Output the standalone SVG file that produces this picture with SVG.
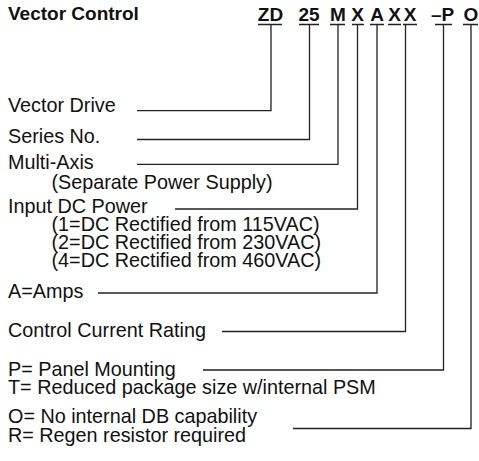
<svg xmlns="http://www.w3.org/2000/svg" width="479" height="461" viewBox="0 0 479 461">
<style>
text{font-family:"Liberation Sans",Arial,sans-serif;fill:#111}
.t{font-size:19.8px}
.b{font-size:19px;font-weight:bold}
.c{font-size:19px;font-weight:bold;text-anchor:middle}
.l{fill:none;stroke:#222;stroke-width:1.3}
</style>
<rect width="479" height="461" fill="#fff"/>
<g id="header">
<text class="b" x="8" y="20">Vector Control</text>
<text class="c" x="270.5" y="20.5">ZD</text>
<text class="c" x="309" y="20.5">25</text>
<text class="c" x="338" y="20.5">M</text>
<text class="c" x="357.5" y="20.5">X</text>
<text class="c" x="377" y="20.5">A</text>
<text class="c" x="394.5" y="20.5">X</text>
<text class="c" x="410" y="20.5">X</text>
<text class="c" x="442.5" y="20.5">–P</text>
<text class="c" x="471" y="20.5">O</text>
</g>
<g id="connectors" class="l">
<path d="M258 24.5H282M299 24.5H319M330 24.5H345M352 24.5H364M370 24.5H384M388 24.5H401M403 24.5H417M435 24.5H452M463 24.5H478"/>
<path d="M271 24.5V110.7H137"/>
<path d="M309.5 24.5V139.5H137"/>
<path d="M338 24.5V164.3H137"/>
<path d="M357.5 24.5V209H175"/>
<path d="M377 24.5V293H98"/>
<path d="M405.5 24.5V331.5H222"/>
<path d="M443.5 24.5V370H203"/>
<path d="M471 24.5V428.5H293"/>
</g>
<g id="vector-drive"><text class="t" x="8" y="111.5">Vector Drive</text></g>
<g id="series-no"><text class="t" x="8" y="143">Series No.</text></g>
<g id="multi-axis"><text class="t" x="8" y="169">Multi-Axis</text><text class="t" x="51.5" y="188.5">(Separate Power Supply)</text></g>
<g id="input-dc-power"><text class="t" x="8" y="213">Input DC Power</text>
<text class="t" x="51.5" y="231">(1=DC Rectified from 115VAC)</text>
<text class="t" x="51.5" y="248.7">(2=DC Rectified from 230VAC)</text>
<text class="t" x="51.5" y="266.5">(4=DC Rectified from 460VAC)</text></g>
<g id="amps"><text class="t" x="8" y="298.3">A=Amps</text></g>
<g id="control-current"><text class="t" x="8" y="337">Control Current Rating</text></g>
<g id="panel"><text class="t" x="8" y="376">P= Panel Mounting</text><text class="t" x="8" y="394.3">T= Reduced package size w/internal PSM</text></g>
<g id="db"><text class="t" x="8" y="422.7">O= No internal DB capability</text><text class="t" x="8" y="441.7">R= Regen resistor required</text></g>
</svg>
